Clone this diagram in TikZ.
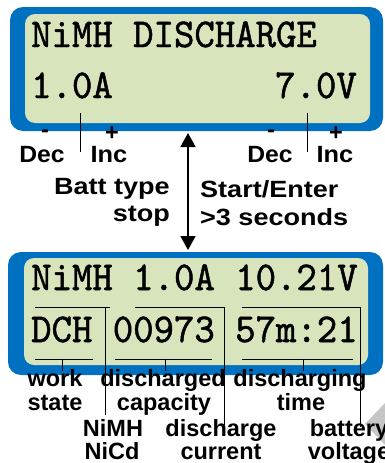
\documentclass[tikz,border=0pt]{standalone}
\usepackage{fontspec}
\usepackage{graphicx}
\usetikzlibrary{arrows.meta}
\newfontfamily\labfont{Liberation Sans}
\setmonofont{lmmono10-regular.otf}[FakeBold=1.2]
\definecolor{lcdblue}{RGB}{0,112,192}
\definecolor{lcdgreen}{RGB}{216,228,188}
\newcommand\lbl{\fontsize{23.5}{24}\selectfont\labfont\bfseries}
\newcommand\lcdf{\fontsize{41}{41}\selectfont\ttfamily}
\newcommand\hsq[2]{\scalebox{#1}[1]{#2}}
\tikzset{
  frame/.style={fill=lcdblue, rounded corners=13pt},
  screen/.style={fill=lcdgreen, rounded corners=10pt},
  lcdtxt/.style={inner sep=0pt, anchor=base west, font=\lcdf},
  lab/.style={inner sep=0pt, anchor=base, font=\lbl},
  ann/.style={draw=black, line width=0.9pt},
  bigarrow/.style={draw=black, line width=1.7pt, {Triangle[width=15pt,length=14pt]}-{Triangle[width=15pt,length=14pt]}}
}
\begin{document}
\begin{tikzpicture}[x=1pt,y=-1pt]
\useasboundingbox (0,0) rectangle (385,463);
% watermark fragment
\fill[gray!45] (365,424) -- (385,403) -- (385,445) -- cycle;
% top LCD
\path[frame] (10,7) rectangle (383,131);
\path[screen] (25,14) rectangle (370,123);
\node[lcdtxt] (t1) at (31,47) {\hsq{0.948}{NiMH DISCHARGE}};
\node[lcdtxt] (t2) at (31,98) {\hsq{0.948}{1.0A}};
\node[lcdtxt] (t3) at (275,98) {\hsq{0.948}{7.0V}};
% bottom LCD
\path[frame] (8,252) rectangle (383,375);
\path[screen] (24,258) rectangle (368,365);
\node[lcdtxt] (b1) at (31,290) {\hsq{0.948}{NiMH 1.0A 10.21V}};
\node[lcdtxt] (b2) at (31,342) {\hsq{0.948}{DCH 00973 57m:21}};
% top ticks
\coordinate (ca1) at (80,113); \coordinate (ca2) at (80,152);
\coordinate (cv1) at (307,113); \coordinate (cv2) at (307,152);
\draw[ann] (ca1) -- (ca2);
\draw[ann] (cv1) -- (cv2);
% top labels
\node[lab] (m1) at (45,137) {-};
\node[lab] (p1) at (112,140) {+};
\node[lab] (m2) at (271,137) {-};
\node[lab] (p2) at (336,140) {+};
\node[lab] (dec1) at (42,162) {\hsq{1.05}{Dec}};
\node[lab] (inc1) at (109,162) {\hsq{1.08}{Inc}};
\node[lab] (dec2) at (270,162) {\hsq{1.05}{Dec}};
\node[lab] (inc2) at (335,162) {\hsq{1.08}{Inc}};
\node[lab, anchor=base east] (batt) at (170,194) {\hsq{1.15}{Batt type}};
\node[lab, anchor=base east] (stop) at (170,221) {\hsq{1.15}{stop}};
\node[lab, anchor=base west] (start) at (200,197) {\hsq{1.15}{Start/Enter}};
\node[lab, anchor=base west] (sec) at (200,225) {\hsq{1.15}{>3 seconds}};
% big arrow
\coordinate (ar1) at (188,133); \coordinate (ar2) at (188,250);
\draw[bigarrow] (ar1) -- (ar2);
% bottom brackets
\draw[ann] (35,307) -- (110,307);
\draw[ann] (105,307) -- (105,415);
\draw[ann] (135,307) -- (224,307) -- (224,425);
\draw[ann] (242,307) -- (360,307) -- (360,427);
\draw[ann] (35,359) -- (93,359);
\draw[ann] (62,359) -- (62,371);
\draw[ann] (115,359) -- (212,359);
\draw[ann] (165,359) -- (165,371);
\draw[ann] (242,359) -- (353,359);
\draw[ann] (303,359) -- (303,371);
% bottom labels
\node[lab] (work) at (55,386) {work};
\node[lab] (state) at (55,410) {state};
\node[lab] (dchd) at (163,386) {discharged};
\node[lab] (cap) at (164,410) {capacity};
\node[lab] (dchg) at (300,386) {discharging};
\node[lab] (time) at (301,410) {time};
\node[lab] (nimh) at (113,436) {NiMH};
\node[lab] (nicd) at (112,459) {NiCd};
\node[lab] (dis) at (221,436) {discharge};
\node[lab] (cur) at (221,459) {current};
\node[lab] (bat) at (349,436) {battery};
\node[lab] (vol) at (349,459) {voltage};
\end{tikzpicture}
\end{document}
